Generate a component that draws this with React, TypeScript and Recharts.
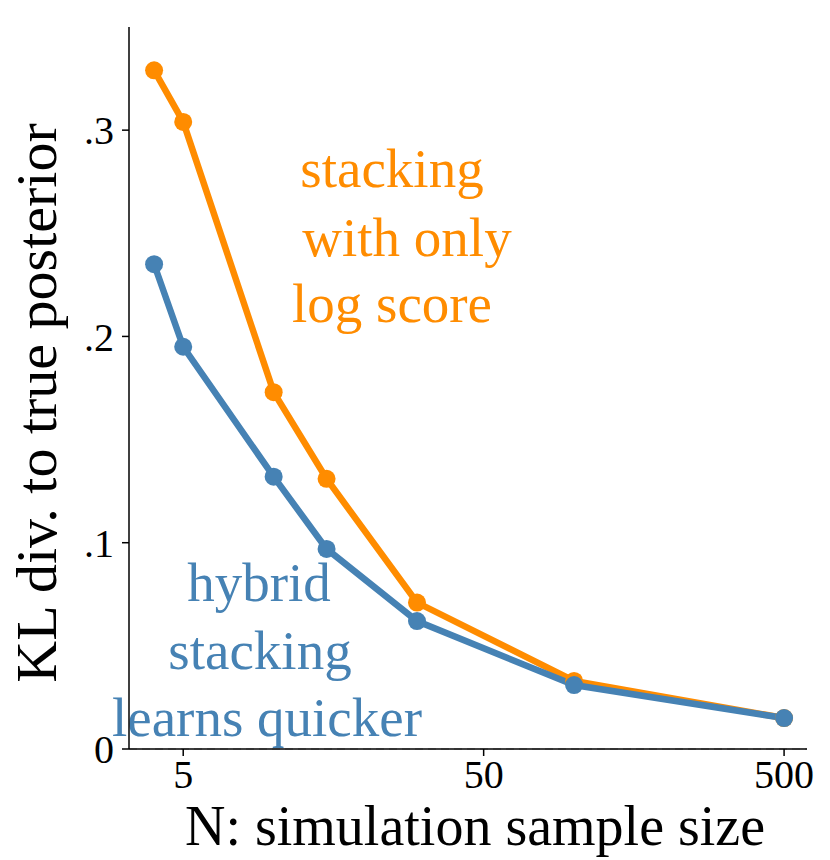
import React from 'react'
import {
    LineChart,
    Line,
    XAxis,
    YAxis,
    ReferenceLine,
    Customized
} from 'recharts'

const SAMPLE_SIZES = [4, 5, 10, 15, 30, 100, 500]
const LOG_ONLY = [0.329, 0.304, 0.173, 0.131, 0.071, 0.033, 0.015]
const HYBRID = [0.235, 0.195, 0.132, 0.097, 0.062, 0.031, 0.015]
const X_TICKS = [5, 50, 500]
const Y_TICKS = [0, 0.1, 0.2, 0.3]

const ORANGE = '#ff8c00'
const BLUE = '#4682b4'
const FONT = '"Liberation Serif", "DejaVu Serif", serif'

const DATA = SAMPLE_SIZES.map((n, i) => ({ n, logOnly: LOG_ONLY[i], hybrid: HYBRID[i] }))

const fmtY = (v: number) => (v === 0 ? '0' : String(v).replace(/^0/, ''))

function Annotations() {
    return (
        <g fontFamily={FONT}>
            <text x={392} y={168} fill={ORANGE} fontSize={55} textAnchor="middle" dominantBaseline="central">stacking</text>
            <text x={407} y={237} fill={ORANGE} fontSize={55} textAnchor="middle" dominantBaseline="central">with only</text>
            <text x={392} y={303} fill={ORANGE} fontSize={55} textAnchor="middle" dominantBaseline="central">log score</text>
            <text x={259} y={582} fill={BLUE} fontSize={55} textAnchor="middle" dominantBaseline="central">hybrid</text>
            <text x={260} y={650} fill={BLUE} fontSize={55} textAnchor="middle" dominantBaseline="central">stacking</text>
            <text x={267} y={717} fill={BLUE} fontSize={55} textAnchor="middle" dominantBaseline="central">learns quicker</text>
            <text x={475} y={826} fill="#000" fontSize={56} textAnchor="middle" dominantBaseline="central">N: simulation sample size</text>
            <text
                x={36}
                y={403}
                fill="#000"
                fontSize={58}
                textAnchor="middle"
                dominantBaseline="central"
                transform="rotate(-90 36 403)"
            >
                KL div. to true posterior
            </text>
        </g>
    )
}

export default function App() {
    return (
        <div style={{ position: 'absolute', left: 0, top: 0, width: 830, height: 860, background: '#fff' }}>
            <LineChart
                width={830}
                height={860}
                data={DATA}
                margin={{ top: 27, right: 23, left: 69, bottom: 61 }}
            >
                <XAxis
                    dataKey="n"
                    type="number"
                    scale="log"
                    domain={[3.3, 596]}
                    ticks={X_TICKS}
                    allowDataOverflow
                    height={50}
                    tickSize={7}
                    tickMargin={4}
                    stroke="#000"
                    strokeWidth={1.5}
                    tick={{ fill: '#000', fontSize: 40, fontFamily: FONT }}
                />
                <YAxis
                    type="number"
                    domain={[0, 0.35]}
                    ticks={Y_TICKS}
                    tickFormatter={fmtY}
                    width={60}
                    tickSize={7}
                    tickMargin={8}
                    stroke="#000"
                    strokeWidth={1.5}
                    tick={{ fill: '#000', fontSize: 40, fontFamily: FONT }}
                />
                <ReferenceLine y={0} stroke="#999" strokeDasharray="8 5" />
                <Line
                    dataKey="logOnly"
                    stroke={ORANGE}
                    strokeWidth={6.5}
                    dot={{ r: 9, fill: ORANGE, stroke: ORANGE, strokeWidth: 0 }}
                    isAnimationActive={false}
                />
                <Line
                    dataKey="hybrid"
                    stroke={BLUE}
                    strokeWidth={6.5}
                    dot={{ r: 9, fill: BLUE, stroke: BLUE, strokeWidth: 0 }}
                    isAnimationActive={false}
                />
                <Customized component={Annotations} />
            </LineChart>
        </div>
    )
}
